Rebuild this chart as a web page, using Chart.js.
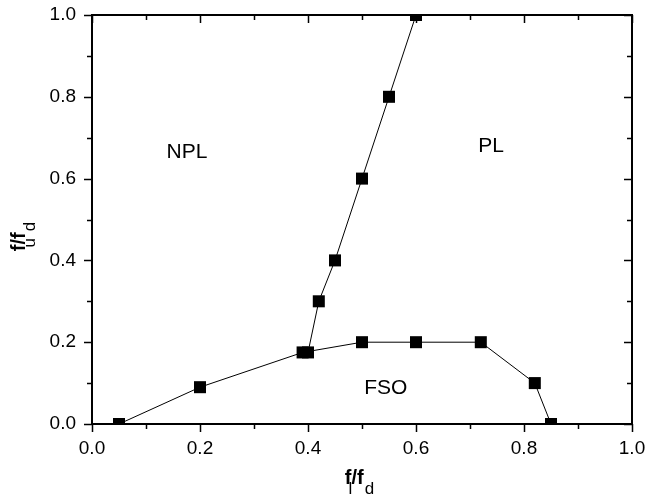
<!DOCTYPE html>
<html>
<head>
<meta charset="utf-8">
<script src="https://cdn.jsdelivr.net/npm/chart.js@4"></script>
<style>
  html, body { margin: 0; padding: 0; background: #fff; }
  #wrap { width: 647px; height: 501px; }
</style>
</head>
<body>
<div id="wrap"><canvas id="phaseChart" width="647" height="501"></canvas></div>
<script>
// lower boundary (FSO region)
const fsoX = [0.05, 0.2, 0.39, 0.5, 0.6, 0.72, 0.82, 0.85];
const fsoY = [0.0, 0.09, 0.175, 0.2, 0.2, 0.2, 0.1, 0.0];
// NPL / PL boundary
const plX = [0.40, 0.42, 0.45, 0.5, 0.55, 0.6];
const plY = [0.175, 0.3, 0.4, 0.6, 0.8, 1.0];

const regionLabels = ['NPL', 'PL', 'FSO'];
const regionX = [0.176, 0.739, 0.544];
const regionY = [0.665, 0.68, 0.088];

const axisTicks = [0, 0.2, 0.4, 0.6, 0.8, 1.0];

const FONT = '"Liberation Sans", Arial, sans-serif';

function toPoints(xs, ys) {
  return xs.map(function(x, i) { return { x: x, y: ys[i] }; });
}

function lineSet(label, xs, ys) {
  return {
    label: label,
    data: toPoints(xs, ys),
    borderColor: '#000',
    borderWidth: 1,
    backgroundColor: '#000',
    pointStyle: 'rect',
    pointRadius: 8.5,
    pointBorderWidth: 0,
    showLine: true,
    tension: 0,
    clip: 0
  };
}

// box frame, ticks (out on bottom/left, in on top/right), axis titles with subscripts, region labels
const decorPlugin = {
  id: 'decor',
  afterDatasetsDraw: function(chart) {
    const ctx = chart.ctx;
    const a = chart.chartArea;
    const xs = chart.scales.x, ys = chart.scales.y;
    ctx.save();
    ctx.strokeStyle = '#000';
    ctx.lineWidth = 2;
    ctx.strokeRect(a.left, a.top, a.right - a.left, a.bottom - a.top);
    ctx.lineWidth = 1.5;
    for (let i = 0; i <= 10; i++) {
      const v = i / 10;
      const len = i % 2 === 0 ? 8 : 5;
      const px = Math.round(xs.getPixelForValue(v)) + 0.5;
      const py = Math.round(ys.getPixelForValue(v)) + 0.5;
      ctx.beginPath();
      ctx.moveTo(px, a.bottom); ctx.lineTo(px, a.bottom + len);
      ctx.moveTo(px, a.top); ctx.lineTo(px, a.top + len);
      ctx.moveTo(a.left, py); ctx.lineTo(a.left - len, py);
      ctx.moveTo(a.right, py); ctx.lineTo(a.right - len, py);
      ctx.stroke();
    }

    ctx.fillStyle = '#000';
    ctx.textBaseline = 'middle';
    ctx.textAlign = 'center';
    ctx.font = '21px ' + FONT;
    regionLabels.forEach(function(t, i) {
      ctx.fillText(t, xs.getPixelForValue(regionX[i]), ys.getPixelForValue(regionY[i]));
    });

    function drawTitle(x) {
      const big = 'bold 20px ' + FONT;
      const small = '17px ' + FONT;
      ctx.textAlign = 'left';
      ctx.textBaseline = 'alphabetic';
      ctx.font = big;
      const wf = ctx.measureText('f').width;
      const wsl = ctx.measureText('/f').width;
      ctx.font = small;
      const w2 = ctx.measureText(x.sub2).width;
      const total = wf + wsl + w2 + 2;
      let cx = -total / 2;
      ctx.font = big;
      ctx.fillText('f', cx, 0);
      ctx.font = small;
      ctx.fillText(x.sub1, cx + wf - 3, 10);
      cx += wf;
      ctx.font = big;
      ctx.fillText('/f', cx, 0);
      cx += wsl;
      ctx.font = small;
      ctx.fillText(x.sub2, cx + 1, 10);
    }

    ctx.save();
    ctx.translate((a.left + a.right) / 2 - 2, 484);
    drawTitle({ sub1: 'l', sub2: 'd' });
    ctx.restore();

    ctx.save();
    ctx.translate(25, 236);
    ctx.rotate(-Math.PI / 2);
    drawTitle({ sub1: 'u', sub2: 'd' });
    ctx.restore();

    ctx.restore();
  }
};

const ctx = document.getElementById('phaseChart').getContext('2d');
const chart = new Chart(ctx, {
  type: 'scatter',
  data: {
    datasets: [
      lineSet('FSO boundary', fsoX, fsoY),
      lineSet('PL boundary', plX, plY)
    ]
  },
  options: {
    responsive: false,
    animation: false,
    devicePixelRatio: 1,
    layout: { padding: { top: 15, right: 15, left: 0, bottom: 0 } },
    plugins: {
      legend: { display: false },
      tooltip: { enabled: false }
    },
    scales: {
      x: {
        type: 'linear',
        min: 0, max: 1,
        afterBuildTicks: function(s) { s.ticks = axisTicks.map(function(v) { return { value: v }; }); },
        afterFit: function(s) {
          s.height = 77;
          s.paddingLeft = 0;
          s.paddingRight = 0;
        },
        grid: { display: false, drawTicks: false },
        border: { display: false },
        ticks: {
          padding: 13,
          color: '#000',
          font: { family: FONT, size: 19 },
          maxRotation: 0,
          callback: function(v) { return v.toFixed(1); }
        }
      },
      y: {
        type: 'linear',
        min: 0, max: 1,
        afterBuildTicks: function(s) { s.ticks = axisTicks.map(function(v) { return { value: v }; }); },
        afterFit: function(s) {
          s.width = 92;
          s.paddingTop = 0;
          s.paddingBottom = 0;
        },
        grid: { display: false, drawTicks: false },
        border: { display: false },
        ticks: {
          padding: 16,
          color: '#000',
          font: { family: FONT, size: 19 },
          callback: function(v) { return v.toFixed(1); }
        }
      }
    }
  },
  plugins: [decorPlugin]
});
</script>
</body>
</html>
